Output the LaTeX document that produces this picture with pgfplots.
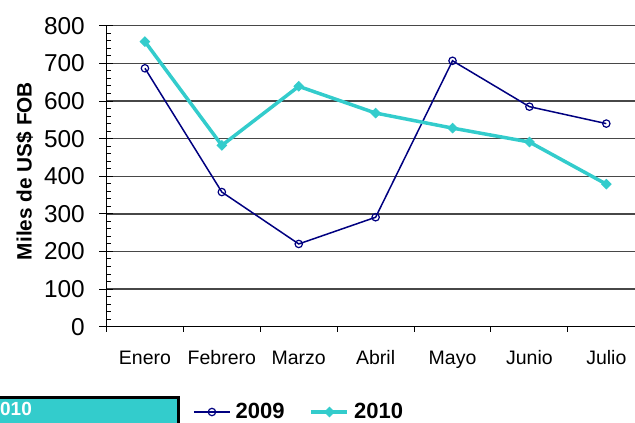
\documentclass[border=0pt]{standalone}
\usepackage{fontspec}
\setmainfont{Liberation Sans}
\usepackage{pgfplots}
\pgfplotsset{compat=1.18}
\definecolor{navyc}{RGB}{0,0,128}
\definecolor{tealc}{RGB}{51,204,204}
\begin{document}
\begin{tikzpicture}[x=1pt,y=1pt]
\path[use as bounding box] (0,0) rectangle (635,423);
\begin{axis}[
  at={(106.5pt,96.3pt)}, anchor=south west,
  scale only axis, width=528.5pt, height=300.9pt,
  xmin=-0.5, xmax=6.373, ymin=0, ymax=800,
  clip=false,
  axis lines=left,
  axis line style={-, black, line width=1.2pt},
  /pgf/number format/assume math mode=true,
  ytick={0,100,...,800}, minor y tick num=4,
  tick align=center, major tick length=14pt, minor tick length=5pt,
  tick style={black, line width=1pt},
  minor y tick style={xshift=2.5pt},
  xtick={0,...,6},
  xticklabels={Enero,Febrero,Marzo,Abril,Mayo,Junio,Julio},
  major x tick style={draw=none},
  minor xtick={-0.5,0.5,...,5.5},
  minor x tick style={yshift=-2.5pt},
  ymajorgrids, grid style={black!72, line width=1.3pt},
  xticklabel style={font=\fontsize{19.5}{23}\selectfont, anchor=base, inner sep=0pt, yshift=-31pt},
  yticklabel style={font=\fontsize{24.4}{29}\selectfont, anchor=east, inner sep=0pt, xshift=-14.5pt},
  ylabel={Miles de US\$ FOB},
  ylabel style={at={(axis description cs:-0.1415,0.5174)}, anchor=base, font=\bfseries\fontsize{20.8}{25}\selectfont},
  legend columns=2,
  legend cell align=left,
  legend style={at={(0.1637,-0.2835)}, anchor=west, draw=none, fill=none, inner sep=0pt,
    font=\bfseries\fontsize{22}{26}\selectfont, nodes={inner sep=0pt}, column sep=5pt,
    /tikz/every even column/.append style={column sep=25pt}},
  legend image code/.code={
    \draw[mark repeat=2,mark phase=2,#1] plot coordinates {(0pt,0pt) (18pt,0pt) (36pt,0pt)};
  },
]
\addplot[color=navyc, line width=1.5pt, mark=o, mark size=3.7pt, mark options={fill=white, line width=1.2pt}]
  coordinates {(0,687) (1,358) (2,220) (3,291) (4,707) (5,585) (6,540)};
\addlegendentry{2009}
\addplot[color=tealc, line width=3.5pt, mark=square*, mark size=3.4pt, mark options={rotate=45, line width=0.8pt}]
  coordinates {(0,758) (1,482) (2,639) (3,568) (4,528) (5,491) (6,379)};
\addlegendentry{2010}
\end{axis}
\draw[line width=3pt, fill=tealc] (-20,-20) rectangle (178.5,25.5);
\node[anchor=base west, inner sep=0pt, text=white, font=\bfseries\fontsize{19}{23}\selectfont] at (-10.6,7) {2010};
\end{tikzpicture}
\end{document}
